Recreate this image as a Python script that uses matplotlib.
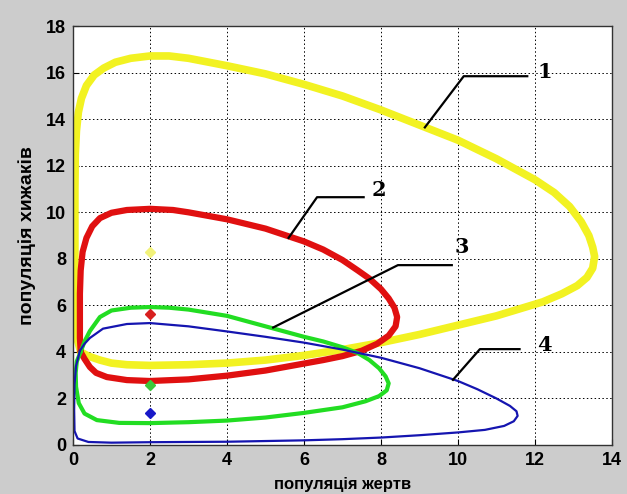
import matplotlib
matplotlib.use('Agg')
import matplotlib.pyplot as plt

# фазові траєкторії хижак-жертва (x - жертви, y - хижаки)
yellow_x = [0.2, 0.1, 0.06, 0.05, 0.05, 0.05, 0.06, 0.09, 0.14, 0.22, 0.35, 0.55, 0.8, 1.1, 1.5, 2.0,
            2.5, 3.0, 4.0, 5.0, 6.0, 7.0, 8.0, 9.0, 10.0, 11.0, 12.0, 12.5, 12.9, 13.2, 13.4, 13.5,
            13.55, 13.5, 13.35, 13.1, 12.7, 12.2, 11.6, 11.0, 10.0, 9.0, 8.0, 7.0, 6.0, 5.0, 4.0,
            3.0, 2.0, 1.4, 1.0, 0.7, 0.4, 0.2]
yellow_y = [4.0, 4.6, 5.5, 7.0, 9.0, 11.0, 12.5, 13.5, 14.3, 14.9, 15.45, 15.9, 16.2, 16.45, 16.62,
            16.72, 16.72, 16.62, 16.3, 15.95, 15.5, 15.0, 14.4, 13.75, 13.1, 12.3, 11.4, 10.85, 10.25,
            9.6, 9.0, 8.5, 8.1, 7.6, 7.2, 6.85, 6.5, 6.15, 5.85, 5.55, 5.15, 4.75, 4.4, 4.1, 3.85,
            3.65, 3.52, 3.45, 3.42, 3.45, 3.52, 3.65, 3.82, 4.0]

red_x = [0.2, 0.18, 0.18, 0.18, 0.2, 0.25, 0.35, 0.5, 0.7, 1.0, 1.4, 2.0, 2.6, 3.0, 4.0, 5.0, 6.0,
         6.5, 7.0, 7.4, 7.7, 8.0, 8.2, 8.35, 8.42, 8.38, 8.2, 7.9, 7.5, 7.0, 6.5, 6.0, 5.0, 4.0,
         3.0, 2.0, 1.4, 0.88, 0.6, 0.44, 0.3, 0.2]
red_y = [4.0, 4.6, 5.5, 6.5, 7.5, 8.3, 8.9, 9.4, 9.75, 9.98, 10.1, 10.15, 10.1, 10.0, 9.7, 9.3, 8.75,
         8.4, 7.95, 7.5, 7.15, 6.7, 6.3, 5.9, 5.5, 5.1, 4.7, 4.35, 4.05, 3.82, 3.65, 3.5, 3.2,
         2.98, 2.82, 2.75, 2.79, 2.92, 3.1, 3.35, 3.7, 4.0]

green_x = [0.2, 0.3, 0.44, 0.7, 1.0, 1.5, 2.0, 2.5, 3.0, 4.0, 5.0, 6.0, 6.5, 7.0, 7.4, 7.7, 7.95,
           8.12, 8.2, 8.15, 7.95, 7.6, 7.0, 6.0, 5.0, 4.0, 3.0, 2.0, 1.2, 0.62, 0.3, 0.15, 0.08,
           0.07, 0.1, 0.2]
green_y = [4.0, 4.45, 4.9, 5.5, 5.78, 5.9, 5.93, 5.9, 5.82, 5.55, 5.1, 4.65, 4.45, 4.2, 3.95, 3.65,
           3.3, 2.95, 2.65, 2.35, 2.1, 1.88, 1.62, 1.38, 1.18, 1.05, 0.98, 0.94, 0.95, 1.07, 1.35,
           1.8, 2.5, 3.1, 3.6, 4.0]

blue_x = [0.18, 0.3, 0.44, 0.78, 1.4, 2.0, 3.0, 4.0, 5.0, 6.0, 7.0, 8.0, 9.0, 10.0, 10.5, 11.0,
          11.35, 11.52, 11.55, 11.45, 11.2, 10.7, 10.0, 9.0, 8.0, 7.0, 6.0, 4.0, 2.0, 1.0, 0.4, 0.12,
          0.04, 0.03, 0.04, 0.08, 0.18]
blue_y = [4.05, 4.35, 4.6, 5.0, 5.2, 5.24, 5.1, 4.88, 4.65, 4.4, 4.1, 3.75, 3.3, 2.75, 2.4, 2.0,
          1.68, 1.45, 1.25, 1.02, 0.82, 0.65, 0.54, 0.42, 0.32, 0.25, 0.2, 0.14, 0.12, 0.1, 0.13, 0.28,
          0.6, 1.5, 2.6, 3.4, 4.05]

# особливі точки на осі x = 2
dot_x = [2, 2, 2, 2]
dot_y = [8.3, 5.65, 2.58, 1.37]
dot_colors = ['#f2f27a', '#d82020', '#3cc83c', '#1818c8']

# виноски з номерами кривих: (точка на кривій, злам, кінець полиці, текст)
labels = ['1', '2', '3', '4']
lead_start = [(9.14, 13.65), (5.6, 8.9), (5.2, 5.05), (9.87, 2.8)]
lead_knee = [(10.15, 15.85), (6.34, 10.65), (8.44, 7.73), (10.57, 4.12)]
lead_end = [(11.8, 15.85), (7.55, 10.65), (9.84, 7.73), (11.6, 4.12)]
label_pos = [(12.25, 16.05), (7.95, 10.95), (10.1, 8.5), (12.25, 4.3)]

fig = plt.figure(figsize=(6.27, 4.94), dpi=100, facecolor='#cccccc')
ax = fig.add_axes([0.1164, 0.0992, 0.8596, 0.8478])
ax.set_facecolor('white')

style = dict(solid_joinstyle='round', solid_capstyle='round')
ax.plot(yellow_x, yellow_y, color='#f2f222', lw=5.5, **style)
ax.plot(red_x, red_y, color='#e01010', lw=4.5, **style)
ax.plot(green_x, green_y, color='#22dd22', lw=3.0, **style)
ax.plot(blue_x, blue_y, color='#1515b0', lw=1.6, **style)

for x, y, c in zip(dot_x, dot_y, dot_colors):
    ax.plot(x, y, 'D', color=c, ms=5, mec=c)

for s, k, e, t, p in zip(lead_start, lead_knee, lead_end, labels, label_pos):
    ax.plot([s[0], k[0], e[0]], [s[1], k[1], e[1]], color='black', lw=1.6)
    ax.text(p[0], p[1], t, fontsize=15, fontweight='bold', family='DejaVu Serif',
            ha='center', va='center')

ax.set_xlim(0, 14)
ax.set_ylim(0, 18)
ax.set_xticks(range(0, 15, 2))
ax.set_yticks(range(0, 19, 2))
ax.grid(True, color='black', linestyle=(0, (1.5, 2.5)), linewidth=0.7)
ax.tick_params(direction='in', length=4, labelsize=13, pad=5)
for lab in ax.get_xticklabels() + ax.get_yticklabels():
    lab.set_fontweight('bold')
    lab.set_family('Liberation Sans')
for sp in ax.spines.values():
    sp.set_color('#333333')
    sp.set_linewidth(1.0)

ax.set_xlabel('популяція жертв', fontsize=12, fontweight='bold', family='Liberation Sans', labelpad=6)
ax.set_ylabel('популяція хижаків', fontsize=14, fontweight='bold', family='Liberation Sans', labelpad=7)

fig.savefig('out.png', dpi=100, facecolor=fig.get_facecolor())
